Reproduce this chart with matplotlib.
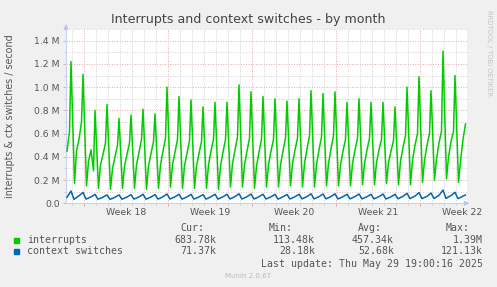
import datetime as dt
import matplotlib
matplotlib.use("Agg")
import matplotlib.pyplot as plt
import matplotlib.dates as mdates
from matplotlib.patches import Rectangle
from matplotlib.ticker import MultipleLocator, FuncFormatter, FixedLocator

# ---- data ----
first_day = dt.datetime(2025, 4, 26)
last_update = dt.datetime(2025, 5, 29, 19, 0, 16)

# interrupts, millions/s, one row per day, sampled at these hours
int_hours = [5, 9, 14, 19, 22]
interrupts_m = [
    [None, None, 0.45, 0.62, 1.22],   # Apr 26
    [0.17, 0.45, 0.55, 0.70, 1.11],
    [0.15, 0.36, 0.46, 0.28, 0.80],
    [0.13, 0.33, 0.42, 0.52, 0.85],
    [0.12, 0.30, 0.40, 0.50, 0.73],
    [0.13, 0.32, 0.42, 0.52, 0.76],   # May 1
    [0.13, 0.33, 0.44, 0.55, 0.81],
    [0.12, 0.32, 0.43, 0.53, 0.77],
    [0.13, 0.33, 0.45, 0.56, 1.00],
    [0.14, 0.33, 0.44, 0.55, 0.92],
    [0.13, 0.32, 0.43, 0.54, 0.89],
    [0.13, 0.32, 0.43, 0.53, 0.83],
    [0.13, 0.33, 0.45, 0.55, 0.87],
    [0.12, 0.32, 0.44, 0.55, 0.87],
    [0.14, 0.34, 0.46, 0.57, 1.02],
    [0.14, 0.33, 0.45, 0.56, 0.96],
    [0.13, 0.32, 0.44, 0.55, 0.92],
    [0.14, 0.33, 0.45, 0.55, 0.90],
    [0.14, 0.33, 0.45, 0.56, 0.88],
    [0.15, 0.34, 0.46, 0.56, 0.90],
    [0.14, 0.34, 0.47, 0.58, 0.97],
    [0.14, 0.33, 0.46, 0.57, 0.945],
    [0.15, 0.34, 0.47, 0.58, 0.96],
    [0.15, 0.33, 0.45, 0.55, 0.87],
    [0.15, 0.34, 0.46, 0.56, 0.90],
    [0.16, 0.34, 0.46, 0.56, 0.87],
    [0.16, 0.35, 0.46, 0.55, 0.87],
    [0.17, 0.35, 0.45, 0.54, 0.83],
    [0.16, 0.36, 0.48, 0.58, 1.00],
    [0.16, 0.37, 0.50, 0.60, 1.09],
    [0.18, 0.37, 0.50, 0.60, 0.97],
    [0.20, 0.38, 0.52, 0.62, 1.31],
    [0.21, 0.40, 0.53, 0.62, 1.10],
    [0.18, 0.36, 0.55, None, None],   # May 29
]

# context switches, thousands/s
ctx_hours = [4, 9, 14, 22]
ctx_k = [
    [None, None, 52, 106],
    [34, 50, 65, 94],
    [36, 45, 55, 77],
    [35, 44, 53, 72],
    [34, 43, 52, 72],
    [35, 44, 54, 75],
    [36, 45, 55, 78],
    [35, 44, 54, 75],
    [36, 46, 56, 80],
    [37, 46, 56, 78],
    [36, 45, 55, 77],
    [36, 45, 55, 75],
    [36, 46, 56, 78],
    [36, 46, 56, 78],
    [37, 47, 58, 82],
    [37, 47, 57, 80],
    [37, 46, 56, 78],
    [37, 46, 56, 77],
    [36, 46, 56, 76],
    [37, 47, 57, 78],
    [38, 48, 58, 82],
    [38, 47, 57, 80],
    [38, 48, 58, 82],
    [37, 47, 57, 78],
    [38, 48, 58, 80],
    [38, 47, 57, 78],
    [38, 48, 58, 80],
    [37, 47, 56, 78],
    [39, 50, 60, 86],
    [40, 52, 62, 92],
    [40, 50, 60, 88],
    [42, 55, 68, 114],
    [42, 55, 66, 95],
    [40, 50, 62, None],
]

series_names = ["interrupts", "context switches"]
series_colors = ["#00CC00", "#0066B3"]
cur_vals = [683.78e3, 71.37e3]
min_vals = [113.48e3, 28.18e3]
avg_vals = [457.34e3, 52.68e3]
max_vals = [1.39e6, 121.13e3]

week_numbers = [18, 19, 20, 21, 22]
week_mondays = [dt.datetime(2025, 4, 28) + dt.timedelta(weeks=i) for i in range(5)]

W, H = 497, 287


def build(rows, hours, scale, cur):
    t, v = [], []
    for i, row in enumerate(rows):
        for h, val in zip(hours, row):
            if val is not None:
                t.append(first_day + dt.timedelta(days=i, hours=h))
                v.append(val * scale)
    t.append(last_update)
    v.append(cur)
    return t, v


def px(x, y):
    return x / W, 1 - y / H


def si(v):
    return f"{v / 1e6:.2f}M" if v >= 1e6 else f"{v / 1e3:.2f}k"


fig = plt.figure(figsize=(W / 100, H / 100), dpi=100, facecolor="#F0F0F0")
ax = fig.add_axes([66 / W, 1 - 203.3 / H, 401 / W, 174.2 / H], facecolor="white")

t_int, v_int = build(interrupts_m, int_hours, 1e6, cur_vals[0])
t_ctx, v_ctx = build(ctx_k, ctx_hours, 1e3, cur_vals[1])
ax.plot(t_int, v_int, color=series_colors[0], lw=1.1, zorder=3)
ax.plot(t_ctx, v_ctx, color=series_colors[1], lw=1.1, zorder=3)

ax.set_xlim(dt.datetime(2025, 4, 26, 12), dt.datetime(2025, 5, 29, 22))
ax.set_ylim(0, 1.5e6)

ax.xaxis.set_major_locator(FixedLocator(mdates.date2num(week_mondays)))
ax.xaxis.set_minor_locator(mdates.DayLocator())
ax.xaxis.set_major_formatter(FuncFormatter(lambda v, p: ""))
ax.yaxis.set_major_locator(MultipleLocator(0.2e6))
ax.yaxis.set_minor_locator(MultipleLocator(0.1e6))
ax.yaxis.set_major_formatter(FuncFormatter(
    lambda v, p: "0.0" if v == 0 else f"{v / 1e6:.1f} M"))

red = "#E8A8A8"
grey = "#D0D0D0"
ax.set_axisbelow(True)
ax.grid(which="minor", color=grey, lw=0.7, ls=(0, (1, 1.6)))
ax.grid(which="major", color=red, lw=0.7, ls=(0, (1, 1.6)))
ax.tick_params(which="major", colors=red, length=2.5, width=0.7, labelcolor="#555555",
               labelsize=6.7, pad=2)
ax.tick_params(which="minor", colors=grey, length=1.5, width=0.7)

for s in ["top", "right"]:
    ax.spines[s].set_visible(False)
for s in ["left", "bottom"]:
    ax.spines[s].set_color("#C8D0F4")
    ax.spines[s].set_linewidth(0.8)
arrow = dict(arrowstyle="-|>", color="#B8C4F4", lw=0.8, mutation_scale=7)
ax.annotate("", xy=(0, 1.045), xytext=(0, 0.98), xycoords="axes fraction", arrowprops=arrow)
ax.annotate("", xy=(1.013, 0), xytext=(0.99, 0), xycoords="axes fraction", arrowprops=arrow)

for wk, mon in zip(week_numbers, week_mondays):
    ax.text(mon + dt.timedelta(days=3.5), -0.025, f"Week {wk}", transform=ax.get_xaxis_transform(),
            ha="center", va="top", fontsize=6.7, color="#555555")

fig.text(*px(248, 19), "Interrupts and context switches - by month", ha="center", va="center",
         fontsize=9.1, color="#444444")
fig.text(*px(10, 116), "interrupts & ctx switches / second", rotation=90, ha="center",
         va="center", fontsize=6.9, color="#555555")
fig.text(*px(489, 53), "RRDTOOL / TOBI OETIKER", rotation=270, ha="center", va="center",
         fontsize=4.9, color="#C4C4C4")

mono = dict(family="DejaVu Sans Mono", fontsize=7.1, color="#555555", va="center")
for label, xe in zip(["Cur:", "Min:", "Avg:", "Max:"], [204, 293, 382, 470]):
    fig.text(*px(xe, 228), label, ha="right", **mono)
for i, name in enumerate(series_names):
    y = 240 + 11.5 * i
    fig.add_artist(Rectangle(px(14, y + 2.5), 5 / W, 5 / H, transform=fig.transFigure,
                             color=series_colors[i]))
    fig.text(*px(27, y), name, ha="left", **mono)
    for vals, xe in zip([cur_vals, min_vals, avg_vals, max_vals], [216, 315, 394, 483]):
        fig.text(*px(xe, y), si(vals[i]), ha="right", **mono)
fig.text(*px(483, 263.7), "Last update: " + last_update.strftime("%a %b %d %H:%M:%S %Y"),
         ha="right", **mono)
fig.text(*px(248, 275.7), "Munin 2.0.67", ha="center", va="center", fontsize=5, color="#BBBBBB")

fig.savefig("out.png", dpi=100, facecolor=fig.get_facecolor())
